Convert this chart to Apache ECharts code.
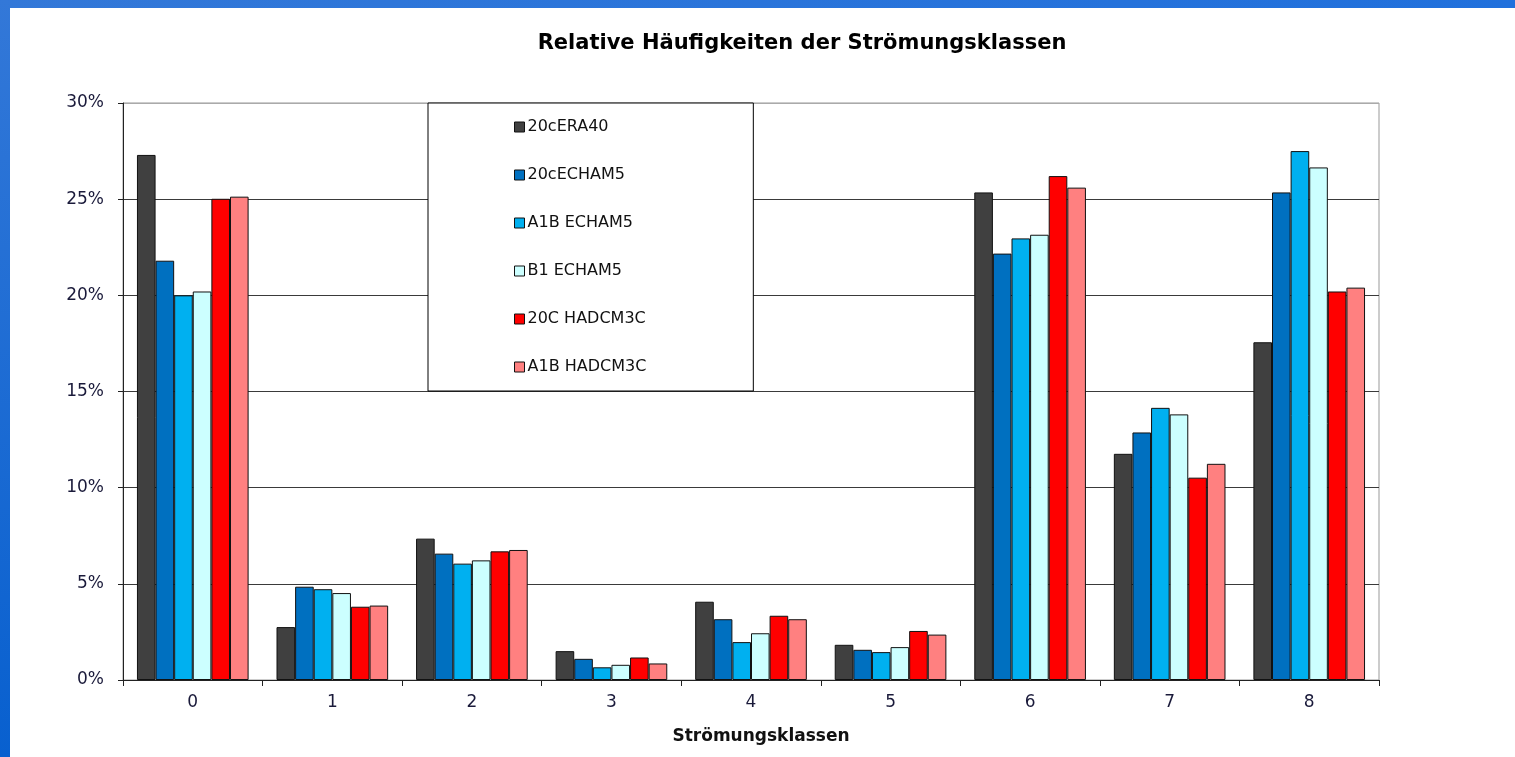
<!DOCTYPE html>
<html>
<head>
<meta charset="utf-8">
<script src="https://cdn.jsdelivr.net/npm/echarts@6/dist/echarts.min.js"></script>
<style>
html, body { margin: 0; padding: 0; background: #fff; overflow: hidden; }
#chart { position: absolute; left: 0; top: 0; width: 1515px; height: 757px; }
#topBar { position: absolute; left: 0; top: 0; width: 1515px; height: 8px; background: linear-gradient(to right, #3378d8, #2070dc); }
#leftBar { position: absolute; left: 0; top: 0; width: 10px; height: 757px; background: linear-gradient(to bottom, #3378d8, #0860cf); }
</style>
</head>
<body>
<div id="chart"></div>
<div id="topBar"></div>
<div id="leftBar"></div>
<script>
var klassen = ['0', '1', '2', '3', '4', '5', '6', '7', '8'];
var yTicks = [0, 5, 10, 15, 20, 25, 30];

// Anteile in %
var era40_20c   = [27.3, 2.75, 7.35, 1.5, 4.07, 1.83, 25.35, 11.76, 17.56];
var echam5_20c  = [21.8, 4.85, 6.57, 1.1, 3.16, 1.57, 22.17, 12.87, 25.35];
var echam5_a1b  = [20.0, 4.72, 6.05, 0.66, 1.97, 1.45, 22.96, 14.15, 27.5];
var echam5_b1   = [20.2, 4.52, 6.22, 0.79, 2.43, 1.71, 23.15, 13.81, 26.65];
var hadcm3c_20c = [25.02, 3.81, 6.69, 1.17, 3.34, 2.55, 26.2, 10.52, 20.2];
var hadcm3c_a1b = [25.13, 3.87, 6.76, 0.86, 3.16, 2.36, 25.6, 11.24, 20.4];

var seriesNames = ['20cERA40', '20cECHAM5', 'A1B ECHAM5', 'B1 ECHAM5', '20C HADCM3C', 'A1B HADCM3C'];
var seriesData = [era40_20c, echam5_20c, echam5_a1b, echam5_b1, hadcm3c_20c, hadcm3c_a1b];
var colors = ['#404040', '#0070c0', '#00b0f0', '#ccffff', '#ff0000', '#ff8080'];

var FONT = 'DejaVu Sans, Verdana, sans-serif';

var Chart = {
	build: function() {
		var series = [];
		for (var i = 0; i < seriesNames.length; i++) {
			series.push({
				name: seriesNames[i],
				type: 'bar',
				data: seriesData[i],
				barGap: '0%',
				barCategoryGap: '20%',
				itemStyle: { color: colors[i], borderColor: '#111', borderWidth: 1 }
			});
		}
		var option = {
			animation: false,
			backgroundColor: 'transparent',
			textStyle: { fontFamily: FONT },
			title: {
				text: 'Relative Häufigkeiten der Strömungsklassen',
				left: 797, top: 28, textAlign: 'center',
				textStyle: { fontSize: 21, fontWeight: 'bold', color: '#000', fontFamily: FONT }
			},
			legend: {
				orient: 'vertical',
				left: 428, top: 103,
				padding: [16, 107, 16, 86],
				itemGap: 32,
				itemWidth: 10, itemHeight: 10,
				icon: 'rect',
				backgroundColor: '#fff',
				borderColor: '#000', borderWidth: 1,
				itemStyle: { borderColor: '#111', borderWidth: 1 },
				textStyle: { fontSize: 16, color: '#111', fontFamily: FONT, padding: [0, 0, 0, -2] },
				data: seriesNames
			},
			grid: { left: 123, right: 136, top: 103, bottom: 77, show: true, borderColor: '#999', borderWidth: 1 },
			xAxis: {
				type: 'category',
				data: klassen,
				name: 'Strömungsklassen',
				nameLocation: 'middle',
				nameGap: 48,
				nameTextStyle: { fontSize: 17, fontWeight: 'bold', color: '#111', fontFamily: FONT, padding: [0, 0, 0, 20] },
				axisLine: { lineStyle: { color: '#222', width: 1 } },
				axisTick: { show: true, alignWithLabel: false, length: 6, lineStyle: { color: '#222' } },
				axisLabel: { fontSize: 17, color: '#1a1a3a', margin: 14, fontFamily: FONT }
			},
			yAxis: {
				type: 'value',
				min: yTicks[0], max: yTicks[yTicks.length - 1], interval: 5,
				axisLine: { show: true, lineStyle: { color: '#222', width: 1 } },
				axisTick: { show: true, length: 5, lineStyle: { color: '#222' } },
				axisLabel: { fontSize: 17, color: '#1a1a3a', margin: 19, fontFamily: FONT, formatter: '{value}%' },
				splitLine: { show: true, lineStyle: { color: ['#3a3a3a', '#3a3a3a', '#3a3a3a', '#3a3a3a', '#3a3a3a', '#3a3a3a', '#aaa'], width: 1 } }
			},
			series: series
		};
		var myChart = echarts.init(document.getElementById('chart'));
		myChart.setOption(option);
	}
};
Chart.build();
</script>
</body>
</html>
